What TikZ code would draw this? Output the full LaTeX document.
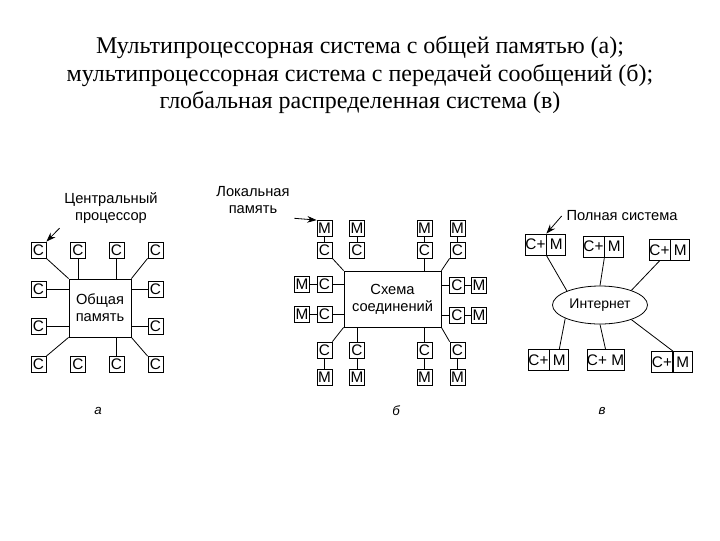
\documentclass[tikz,border=0pt]{standalone}
\usepackage{fontspec}
\setmainfont{Liberation Serif}
\setsansfont{Liberation Sans}
\usetikzlibrary{shapes.geometric,arrows.meta}

\begin{document}
\begin{tikzpicture}[x=0.75pt,y=-0.75pt,line width=0.6pt,
  every node/.style={font=\sffamily\fontsize{11.5}{13}\selectfont},
  proc/.style={draw,inner sep=0pt,minimum width=11.25pt,minimum height=12pt},
  shmem/.style={draw,inner sep=0pt,align=center,font=\sffamily\fontsize{11}{13}\selectfont},
  lbl/.style={align=center,font=\sffamily\fontsize{11}{12.5}\selectfont},
  cpart/.style={draw,inner sep=0pt,minimum width=15.75pt,minimum height=15.75pt},
  mpart/.style={draw,inner sep=0pt,minimum width=14.25pt,minimum height=15.75pt,anchor=west},
  arr/.style={-{Stealth[length=7pt,width=5pt]}},
  sub/.style={font=\sffamily\itshape\fontsize{10}{11}\selectfont}]
\useasboundingbox (0,0) rectangle (720,540);
\node[font=\rmfamily\fontsize{18}{20.5}\selectfont,align=center] (title) at (360,75)
  {Мультипроцессорная система с общей памятью (а);\\мультипроцессорная система с передачей сообщений (б);\\глобальная распределенная система (в)};

% (a) shared memory
\node[shmem,minimum width=46.5pt,minimum height=43.5pt] (mem) at (100,308) {Общая\\память};
\node[proc] (c11) at (38.5,250) {С};
\node[proc] (c12) at (78,250) {С};
\node[proc] (c13) at (116.5,250) {С};
\node[proc] (c14) at (155.5,250) {С};
\node[proc] (c21) at (38.5,289.5) {С};
\node[proc] (c24) at (155.5,289.5) {С};
\node[proc] (c31) at (38.5,326) {С};
\node[proc] (c34) at (155.5,326) {С};
\node[proc] (c41) at (38.5,364.5) {С};
\node[proc] (c42) at (78,364.5) {С};
\node[proc] (c43) at (116.5,364.5) {С};
\node[proc] (c44) at (155.5,364.5) {С};
\draw (c11.south east) -- (mem.north west);
\draw (c12.south) -- (c12.south |- mem.north);
\draw (c13.south) -- (c13.south |- mem.north);
\draw (c14.south west) -- (mem.north east);
\draw (c21.east) -- (c21.east -| mem.west);
\draw (c31.east) -- (c31.east -| mem.west);
\draw (c24.west) -- (c24.west -| mem.east);
\draw (c34.west) -- (c34.west -| mem.east);
\draw (c41.north east) -- (mem.south west);
\draw (c43.north) -- (c43.north |- mem.south);
\draw (c44.north west) -- (mem.south east);
\node[lbl] (cpu) at (111,208) {Центральный\\процессор};
\draw[arr] (cpu.south west) -- (c11.north east);
\node[sub] (suba) at (98,411) {а};

% (b) message passing
\node[shmem,minimum width=72.75pt,minimum height=42pt] (sw) at (392.5,299) {Схема\\соединений};
\node[proc] (tm1) at (324.5,228.5) {М};
\node[proc] (tc1) at (324.5,250) {С};
\node[proc] (tm2) at (357,228.5) {М};
\node[proc] (tc2) at (357,250) {С};
\node[proc] (tm3) at (424.5,228.5) {М};
\node[proc] (tc3) at (424.5,250) {С};
\node[proc] (tm4) at (457.5,228.5) {М};
\node[proc] (tc4) at (457.5,250) {С};
\node[proc] (lm1) at (302,284) {М};
\node[proc] (lc1) at (324.5,284) {С};
\node[proc] (lm2) at (302,314) {М};
\node[proc] (lc2) at (324.5,314) {С};
\node[proc] (rc1) at (457,285) {С};
\node[proc] (rm1) at (479,285) {М};
\node[proc] (rc2) at (457,315) {С};
\node[proc] (rm2) at (479,315) {М};
\node[proc] (bc1) at (324.5,350) {С};
\node[proc] (bm1) at (324.5,377) {М};
\node[proc] (bc2) at (357,350) {С};
\node[proc] (bm2) at (357,377) {М};
\node[proc] (bc3) at (424.5,350) {С};
\node[proc] (bm3) at (424.5,377) {М};
\node[proc] (bc4) at (457.5,350) {С};
\node[proc] (bm4) at (457.5,377) {М};
\draw (tm1) -- (tc1);
\draw (tm2) -- (tc2);
\draw (tm3) -- (tc3);
\draw (tm4) -- (tc4);
\draw (lm1) -- (lc1);
\draw (lm2) -- (lc2);
\draw (rc1) -- (rm1);
\draw (rc2) -- (rm2);
\draw (bc1) -- (bm1);
\draw (bc2) -- (bm2);
\draw (bc3) -- (bm3);
\draw (bc4) -- (bm4);
\draw (tc1.south east) -- (sw.north west);
\draw (tc3.south) -- (tc3.south |- sw.north);
\draw (tc4.south west) -- (sw.north east);
\draw (lc1.east) -- (lc1.east -| sw.west);
\draw (lc2.east) -- (lc2.east -| sw.west);
\draw (rc1.west) -- (rc1.west -| sw.east);
\draw (rc2.west) -- (rc2.west -| sw.east);
\draw (bc1.north east) -- (sw.south west);
\draw (bc2.north) -- (bc2.north |- sw.south);
\draw (bc3.north) -- (bc3.north |- sw.south);
\draw (bc4.north west) -- (sw.south east);
\node[lbl] (loc) at (253,200) {Локальная\\память};
\draw[arr] (loc.south east) -- (tm1.north west);
\node[sub] (subb) at (396,411) {б};

% (v) distributed system
\node[draw,ellipse,inner sep=0pt,minimum width=71.25pt,minimum height=28.5pt,font=\sffamily\fontsize{10.5}{12}\selectfont] (inet) at (600,305) {Интернет};
\node[cpart] (ca1) at (535.5,244.5) {С+};
\node[mpart] (ma1) at (ca1.east) {М};
\node[cpart] (ca2) at (593.5,246.5) {С+};
\node[mpart] (ma2) at (ca2.east) {М};
\node[cpart] (ca3) at (659.5,250) {С+};
\node[mpart] (ma3) at (ca3.east) {М};
\node[cpart] (ca4) at (538.5,360) {С+};
\node[mpart] (ma4) at (ca4.east) {М};
\node[cpart,minimum width=27.75pt] (cm5) at (605.5,360) {С+ М};
\node[cpart] (ca6) at (662,362) {С+};
\node[mpart] (ma6) at (ca6.east) {М};
\draw (ca1.south east) -- (inet.157);
\draw (ca2.south east) -- (inet.north);
\draw (ca3.south) -- (inet.25);
\draw (inet.201) -- (ma4.north);
\draw (inet.south) -- (cm5.north);
\draw (inet.335) -- (ca6.north east);
\node[lbl] (full) at (622,216) {Полная система};
\draw[arr] (full.west) -- (ca1.north east);
\node[sub] (subv) at (602,411) {в};
\end{tikzpicture}
\end{document}
